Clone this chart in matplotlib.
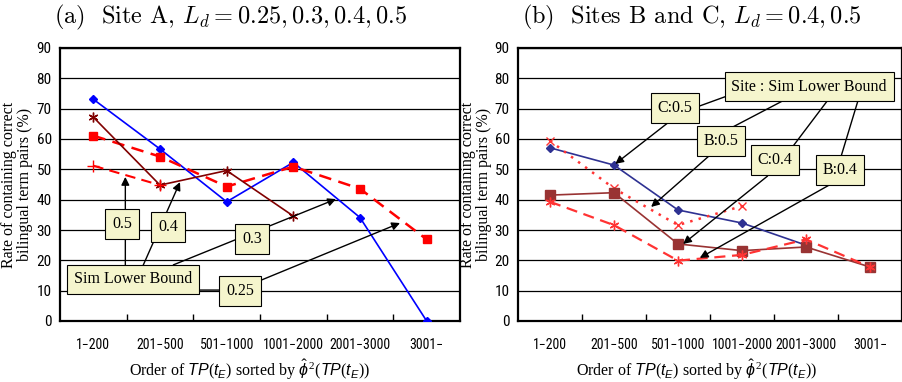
import matplotlib
matplotlib.use("Agg")
import matplotlib.pyplot as plt
from matplotlib import font_manager
from matplotlib.ticker import MultipleLocator, FixedLocator
import numpy as np

plt.rcParams['mathtext.fontset'] = 'custom'
plt.rcParams['mathtext.rm'] = 'Liberation Serif'
plt.rcParams['mathtext.it'] = 'Liberation Sans:italic'
plt.rcParams['mathtext.bf'] = 'Liberation Sans:bold'

categories = ['1\u2212200', '201\u2212500', '501\u22121000', '1001\u22122000', '2001\u22123000', '3001\u2212']

# (a) Site A
a_025 = [73.1, 56.7, 39.3, 52.3, 34.1, 0.0]
a_03 = [61.1, 54.2, 44.3, 50.9, 43.6, 26.9]
a_04 = [67.2, 44.8, 49.6, 34.6]
a_05 = [51.2, 44.8]

# (b) Sites B and C
c_05 = [57.1, 51.4, 36.6, 32.3, 25.0]
b_05 = [59.4, 43.7, 31.6, 37.9]
c_04 = [41.5, 42.3, 25.4, 23.2, 24.4, 17.8]
b_04 = [39.3, 31.6, 19.9, 21.8, 26.9, 17.8]

# pick a narrow sans for the tick labels if there is one
names = {f.name for f in font_manager.fontManager.ttflist}
narrow = [n for n in ['Liberation Sans Narrow', 'Roboto Condensed', 'Open Sans Condensed',
                      'Noto Sans Condensed', 'DejaVu Sans Condensed'] if n in names]
if narrow:
    tick_kw = dict(family=narrow[0], fontsize=10)
    ytick_kw = dict(family=narrow[0], fontsize=11)
else:
    tick_kw = dict(family='Liberation Sans', fontsize=8.5)
    ytick_kw = dict(family='Liberation Sans', fontsize=10.5)

fig = plt.figure(figsize=(9.03, 3.82), dpi=100)
W, H = 903, 382
ax1 = fig.add_axes([60 / W, (H - 321) / H, 400 / W, 273 / H])
ax2 = fig.add_axes([518 / W, (H - 321) / H, 384 / W, 273 / H])

for ax, lx, xl in ((ax1, -0.068, 0.475), (ax2, -0.068, 0.466)):
    ax.set_xlim(-0.5, 5.5)
    ax.set_ylim(0, 90)
    ax.yaxis.set_major_locator(MultipleLocator(10))
    ax.set_xticks(range(len(categories)))
    ax.set_xticklabels(categories, **tick_kw)
    ax.xaxis.set_minor_locator(FixedLocator(np.arange(0.5, 5.0, 1.0)))
    ax.tick_params(axis='x', which='major', length=0, pad=12)
    ax.tick_params(axis='x', which='minor', length=5, direction='in', width=1)
    ax.tick_params(axis='y', length=0, pad=6)
    for lab in ax.get_yticklabels():
        lab.set(**ytick_kw)
    ax.grid(axis='y', color='black', lw=0.9)
    ax.set_axisbelow(True)
    for s in ax.spines.values():
        s.set_linewidth(1.6)
    ax.set_ylabel('Rate of containing correct\nbilingual term pairs (%)',
                  family='Liberation Serif', fontsize=11.5, linespacing=0.95)
    ax.yaxis.set_label_coords(lx, 0.5)
    ax.set_xlabel(r'Order of $TP(t_E)$ sorted by $\hat{\phi}^{\,2}(TP(t_E))$',
                  family='Liberation Serif', fontsize=11.5, labelpad=4)
    ax.xaxis.set_label_coords(xl, -0.135)

# panel (a) lines
x = np.arange(6)
ax1.plot(x[:len(a_025)], a_025, color='#0000FF', lw=1.2, marker='D', ms=4.5, zorder=3)
ax1.plot(x[:len(a_03)], a_03, color='#FF0000', lw=1.8, ls=(0, (5, 3)), marker='s', ms=6, zorder=3)
ax1.plot(x[:len(a_04)], a_04, color='#800000', lw=1.2, marker=(6, 2, 0), ms=7, mew=1, zorder=3)
ax1.plot(x[:len(a_05)], a_05, color='#FF0000', lw=1.5, ls=(0, (5, 3)), marker='+', ms=8, mew=1, zorder=3)

# panel (b) lines
ax2.plot(x[:len(c_05)], c_05, color='#2E3192', lw=1.2, marker='D', ms=4.5, zorder=3)
ax2.plot(x[:len(b_05)], b_05, color='#FF3333', lw=1.8, ls=(0, (1, 2.5)), marker='x', ms=6, mew=1, zorder=3)
ax2.plot(x[:len(c_04)], c_04, color='#993333', lw=1.2, marker='s', ms=6.5, zorder=3)
ax2.plot(x[:len(b_04)], b_04, color='#FF3333', lw=1.6, ls=(0, (5, 3)), marker=(6, 2, 0), ms=7, mew=1, zorder=3)

box = dict(boxstyle='square,pad=0.42', fc='#F5F5CD', ec='black', lw=0.8)
arrow = dict(arrowstyle='-|>', color='black', lw=1.0, mutation_scale=12, shrinkA=0, shrinkB=0)
line = dict(arrowstyle='-', color='black', lw=1.0, shrinkA=0, shrinkB=0)

# annotations (a)
ax1.annotate('', xy=(0.48, 47.5), xytext=(0.48, 14.0), arrowprops=arrow, zorder=4)
ax1.annotate('', xy=(1.3, 45.8), xytext=(0.74, 18.0), arrowprops=arrow, zorder=4)
ax1.annotate('', xy=(3.64, 40.2), xytext=(1.2, 18.5), arrowprops=arrow, zorder=4)
ax1.annotate('', xy=(2.2, 10.2), xytext=(1.5, 10.2), arrowprops=line, zorder=4)
ax1.annotate('', xy=(4.6, 32.3), xytext=(2.2, 10.6), arrowprops=arrow, zorder=4)
for txt, px, py in [('0.5', 0.43, 32.0), ('0.4', 1.12, 31.0), ('0.3', 2.38, 27.0),
                    ('0.25', 2.2, 9.9), ('Sim Lower Bound', 0.6, 13.7)]:
    ax1.text(px, py, txt, family='Liberation Serif', fontsize=11.5, ha='center', va='center',
             bbox=box, zorder=5)

# annotations (b)
ax2.annotate('', xy=(2.3, 70.6), xytext=(2.81, 74.5), arrowprops=line, zorder=4)
ax2.annotate('', xy=(1.02, 51.8), xytext=(1.84, 65.3), arrowprops=arrow, zorder=4)
ax2.annotate('', xy=(2.86, 64.0), xytext=(3.63, 72.5), arrowprops=line, zorder=4)
ax2.annotate('', xy=(1.58, 37.6), xytext=(2.5, 54.7), arrowprops=arrow, zorder=4)
ax2.annotate('', xy=(3.8, 57.7), xytext=(4.33, 72.5), arrowprops=line, zorder=4)
ax2.annotate('', xy=(2.08, 25.4), xytext=(3.4, 47.8), arrowprops=arrow, zorder=4)
ax2.annotate('', xy=(4.55, 54.4), xytext=(4.81, 72.5), arrowprops=line, zorder=4)
ax2.annotate('', xy=(2.34, 20.8), xytext=(4.42, 45.5), arrowprops=arrow, zorder=4)
for txt, px, py in [('Site : Sim Lower Bound', 4.05, 77.3), ('C:0.5', 1.95, 70.2),
                    ('B:0.5', 2.67, 59.3), ('C:0.4', 3.52, 53.1), ('B:0.4', 4.53, 49.8)]:
    ax2.text(px, py, txt, family='Liberation Serif', fontsize=11.5, ha='center', va='center',
             bbox=box, zorder=5)

fig.text(231 / W, 1 - 17 / H, r'(a)  Site A, $L_d = 0.25, 0.3, 0.4, 0.5$',
         family='cmr10', math_fontfamily='cm', fontsize=17.5, ha='center', va='center')
fig.text(692 / W, 1 - 17 / H, r'(b)  Sites B and C, $L_d = 0.4, 0.5$',
         family='cmr10', math_fontfamily='cm', fontsize=17.5, ha='center', va='center')

fig.savefig('out.png', dpi=100)
